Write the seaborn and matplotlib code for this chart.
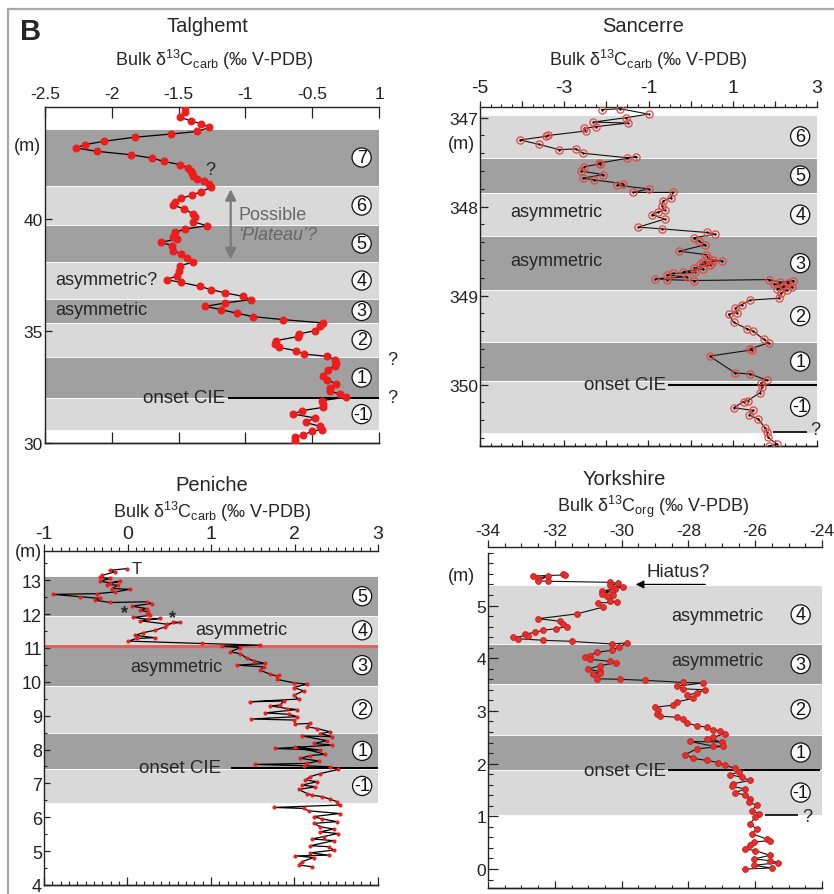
import matplotlib.pyplot as plt
import matplotlib.ticker as mtick
import matplotlib.transforms as mtrans
from matplotlib.lines import Line2D
import seaborn as sns

sns.set_theme(style='white')
plt.rcParams['font.family'] = ['Liberation Sans', 'DejaVu Sans']
plt.rcParams['mathtext.fontset'] = 'custom'
plt.rcParams['mathtext.rm'] = 'Liberation Sans'
plt.rcParams['mathtext.it'] = 'Liberation Sans:italic'
plt.rcParams['mathtext.bf'] = 'Liberation Sans:bold'
plt.rcParams['axes.unicode_minus'] = False
plt.rcParams['axes.edgecolor'] = '#222222'
plt.rcParams['axes.linewidth'] = 1.0
plt.rcParams['xtick.color'] = '#222222'
plt.rcParams['ytick.color'] = '#222222'

DARK = '#a0a0a0'
LIGHT = '#d9d9d9'
RED = '#ee1c1c'

# ---------------- Talghemt ----------------
tal_depth = [44.99, 44.76, 44.54, 44.39, 44.24, 44.09, 43.91, 43.79, 43.65, 43.47,
             43.32, 43.17, 43.02, 42.87, 42.72, 42.57, 42.43, 42.28, 42.16, 42.04,
             41.93, 41.79, 41.68, 41.56, 41.41, 41.22, 41.07, 40.92, 40.77, 40.62,
             40.45, 40.22, 40.07, 39.88, 39.70, 39.55, 39.40, 39.18, 39.11, 38.96,
             38.81, 38.59, 38.44, 38.24, 38.07, 37.92, 37.69, 37.47, 37.29, 37.17,
             36.99, 36.85, 36.70, 36.55, 36.40, 36.25, 36.10, 35.95, 35.79, 35.64,
             35.51, 35.36, 35.21, 35.01, 34.87, 34.75, 34.57, 34.42, 34.27, 34.12,
             33.97, 33.87, 33.72, 33.57, 33.45, 33.27, 33.01, 32.83, 32.63, 32.46,
             32.31, 32.19, 32.04, 31.89, 31.74, 31.59, 31.44, 31.29, 31.12, 30.92,
             30.74, 30.60, 30.52, 30.36, 30.25, 30.15, 30.00]
tal_d13c = [-1.45, -1.45, -1.49, -1.41, -1.33, -1.27, -1.36, -1.56, -1.83, -2.06,
            -2.20, -2.27, -2.11, -1.86, -1.70, -1.61, -1.49, -1.43, -1.41, -1.40,
            -1.39, -1.36, -1.31, -1.27, -1.26, -1.33, -1.40, -1.48, -1.53, -1.54,
            -1.46, -1.39, -1.38, -1.39, -1.29, -1.45, -1.53, -1.54, -1.51, -1.63,
            -1.55, -1.54, -1.48, -1.44, -1.39, -1.49, -1.50, -1.51, -1.59, -1.48,
            -1.34, -1.26, -1.15, -1.02, -0.96, -1.15, -1.30, -1.18, -1.06, -0.94,
            -0.72, -0.42, -0.44, -0.48, -0.60, -0.61, -0.77, -0.78, -0.75, -0.62,
            -0.56, -0.39, -0.33, -0.32, -0.33, -0.38, -0.42, -0.39, -0.32, -0.37,
            -0.37, -0.29, -0.25, -0.43, -0.42, -0.42, -0.58, -0.64, -0.48, -0.55,
            -0.44, -0.43, -0.50, -0.57, -0.63, -0.63, -0.63]
tal_band_edges = [44.02, 41.47, 39.73, 38.08, 36.43, 35.36, 33.84, 32.0, 30.58]
tal_band_labels = ['7', '6', '5', '4', '3', '2', '1', '-1']
tal_xticks = [-2.5, -2, -1.5, -1, -0.5, 0]
tal_xticklabels = ['-2.5', '-2', '-1.5', '-1', '-0.5', '1']

# ---------------- Sancerre ----------------
san_depth = [346.91, 346.90, 346.96, 347.00, 347.05, 347.06, 347.10, 347.12, 347.15, 347.20,
             347.21, 347.25, 347.30, 347.36, 347.35, 347.40, 347.45, 347.44, 347.51, 347.52,
             347.55, 347.60, 347.64, 347.68, 347.70, 347.74, 347.76, 347.80, 347.84, 347.84,
             347.90, 347.94, 347.99, 348.04, 348.06, 348.09, 348.14, 348.23, 348.25, 348.29,
             348.31, 348.35, 348.39, 348.43, 348.50, 348.54, 348.58, 348.60, 348.61, 348.62,
             348.63, 348.65, 348.66, 348.69, 348.70, 348.73, 348.74, 348.75, 348.77, 348.79,
             348.81, 348.82, 348.83, 348.82, 348.85, 348.83, 348.86, 348.87, 348.89, 348.90,
             348.92, 348.94, 348.97, 349.03, 349.05, 349.10, 349.14, 349.19, 349.21, 349.30,
             349.37, 349.40, 349.49, 349.53, 349.60, 349.61, 349.68, 349.87, 349.88, 349.95,
             349.98, 350.03, 350.09, 350.18, 350.19, 350.26, 350.29, 350.34, 350.39, 350.49,
             350.53, 350.59, 350.67, 350.69]
san_d13c = [-2.11, -1.67, -1.00, -1.53, -2.31, -1.48, -2.24, -2.52, -2.49, -3.38,
            -3.43, -4.05, -3.60, -3.12, -2.72, -2.55, -1.52, -1.29, -2.17, -2.15,
            -2.52, -2.60, -2.07, -2.56, -2.29, -1.61, -1.74, -1.00, -1.36, -0.42,
            -0.47, -0.66, -0.68, -0.62, -0.78, -0.92, -0.62, -1.24, -0.68, 0.38,
            0.58, 0.07, 0.21, 0.34, -0.27, 0.37, 0.42, 0.54, 0.74, 0.29,
            0.50, 0.23, 0.45, 0.07, 0.30, -0.17, 0.10, -0.41, -0.57, -0.09,
            -0.84, -0.57, 0.07, 1.85, 2.13, 2.44, 2.30, 1.97, 2.20, 2.40,
            2.05, 2.28, 2.15, 2.09, 1.41, 1.22, 1.06, 1.10, 0.90, 1.02,
            1.33, 1.49, 1.73, 1.85, 1.41, 1.45, 0.45, 1.06, 1.41, 1.81,
            1.67, 1.69, 1.65, 1.36, 1.26, 1.02, 1.49, 1.39, 1.61, 1.77,
            1.81, 1.83, 2.05, 1.85]
san_band_edges = [346.97, 347.45, 347.85, 348.33, 348.94, 349.52, 349.96, 350.54]
san_band_labels = ['6', '5', '4', '3', '2', '1', '-1']

# ---------------- Peniche ----------------
pen_depth = [13.34, 13.29, 13.24, 13.14, 13.08, 13.05, 12.97, 12.92, 12.97, 12.87,
             12.85, 12.75, 12.73, 12.65, 12.60, 12.58, 12.51, 12.46, 12.41, 12.34,
             12.36, 12.31, 12.23, 12.16, 12.11, 12.06, 11.99, 11.96, 11.90, 11.84,
             11.87, 11.80, 11.70, 11.75, 11.77, 11.62, 11.52, 11.45, 11.37, 11.30,
             11.28, 11.20, 11.13, 11.08, 11.05, 11.01, 10.88, 10.83, 10.69, 10.62,
             10.54, 10.49, 10.44, 10.34, 10.22, 10.17, 10.19, 10.07, 9.97, 9.93,
             9.83, 9.73, 9.60, 9.49, 9.41, 9.43, 9.31, 9.29, 9.21, 9.18,
             9.08, 9.04, 8.97, 8.90, 8.87, 8.75, 8.77, 8.67, 8.62, 8.52,
             8.47, 8.38, 8.40, 8.26, 8.18, 8.13, 8.03, 7.98, 8.08, 7.86,
             7.82, 7.74, 7.66, 7.59, 7.56, 7.52, 7.49, 7.41, 7.29, 7.20,
             7.10, 7.05, 6.95, 6.90, 6.82, 6.70, 6.65, 6.61, 6.53, 6.46,
             6.36, 6.29, 6.26, 6.19, 6.11, 6.02, 5.95, 5.87, 5.82, 5.72,
             5.65, 5.57, 5.52, 5.43, 5.36, 5.31, 5.16, 5.13, 5.03, 4.95,
             4.88, 4.86, 4.81, 4.69, 4.59, 4.54]
pen_d13c = [-0.01, -0.21, -0.15, -0.31, -0.33, -0.21, -0.33, -0.21, -0.09, -0.25,
            -0.11, -0.19, 0.03, -0.15, -0.37, -0.89, -0.57, -0.33, -0.39, -0.21,
            0.23, 0.29, 0.05, 0.23, 0.15, 0.25, 0.23, 0.27, 0.07, 0.25,
            0.39, 0.15, 0.47, 0.63, 0.55, 0.45, 0.33, 0.19, 0.09, 0.33,
            0.11, 0.01, 0.89, 1.59, 1.13, 1.35, 1.23, 1.35, 1.43, 1.51,
            1.65, 1.31, 1.63, 1.59, 1.71, 1.79, 1.81, 1.79, 1.99, 2.15,
            1.99, 2.11, 1.99, 2.05, 1.47, 1.87, 1.83, 1.71, 1.91, 2.03,
            1.65, 1.93, 2.03, 1.48, 1.99, 2.01, 2.19, 2.15, 2.27, 2.43,
            2.31, 2.45, 2.09, 2.39, 2.23, 2.45, 1.77, 2.31, 2.01, 2.37,
            2.19, 2.07, 2.29, 2.15, 1.53, 2.11, 2.43, 2.52, 2.31, 2.19,
            2.13, 2.27, 2.09, 2.25, 2.05, 2.15, 2.21, 2.33, 2.43, 2.51,
            2.54, 1.75, 2.11, 2.17, 2.54, 2.23, 2.33, 2.51, 2.23, 2.31,
            2.47, 2.31, 2.52, 2.35, 2.21, 2.47, 2.19, 2.41, 2.47, 2.19,
            2.41, 2.01, 2.23, 2.09, 2.05, 2.21]
pen_band_edges = [13.11, 11.94, 11.10, 9.88, 8.50, 7.42, 6.43]
pen_band_labels = ['5', '4', '3', '2', '1', '-1']

# ---------------- Yorkshire ----------------
yor_depth = [5.60, 5.58, 5.56, 5.52, 5.56, 5.47, 5.46, 5.44, 5.42, 5.38,
             5.35, 5.32, 5.27, 5.27, 5.22, 5.18, 5.19, 5.09, 5.06, 5.05,
             4.97, 4.84, 4.75, 4.70, 4.65, 4.60, 4.56, 4.53, 4.49, 4.46,
             4.43, 4.40, 4.37, 4.34, 4.32, 4.27, 4.29, 4.21, 4.15, 4.11,
             4.05, 4.02, 3.98, 3.94, 3.91, 3.86, 3.79, 3.75, 3.70, 3.72,
             3.61, 3.60, 3.58, 3.54, 3.53, 3.47, 3.42, 3.40, 3.34, 3.30,
             3.24, 3.17, 3.11, 3.07, 3.01, 2.94, 2.90, 2.88, 2.84, 2.77,
             2.72, 2.69, 2.64, 2.62, 2.57, 2.50, 2.47, 2.41, 2.42, 2.33,
             2.33, 2.28, 2.17, 2.10, 2.06, 2.02, 1.97, 1.91, 1.84, 1.79,
             1.74, 1.68, 1.62, 1.57, 1.52, 1.45, 1.40, 1.33, 1.27, 1.21,
             1.11, 1.05, 0.98, 0.86, 0.76, 0.67, 0.57, 0.54, 0.51, 0.45,
             0.38, 0.35, 0.26, 0.19, 0.16, 0.12, 0.07, 0.02, 0.00]
yor_d13c = [-31.74, -31.70, -32.64, -32.49, -32.19, -32.49, -32.19, -30.35, -30.10, -30.35,
            -29.95, -30.20, -30.60, -30.30, -30.60, -30.45, -30.25, -30.35, -30.15, -30.70,
            -30.55, -31.35, -32.49, -31.84, -31.74, -31.64, -31.96, -32.36, -32.59, -32.89,
            -32.79, -33.24, -33.09, -32.34, -31.50, -30.30, -29.85, -30.07, -30.30, -30.75,
            -30.95, -31.10, -30.95, -30.35, -30.18, -30.65, -31.00, -30.65, -30.85, -30.65,
            -30.75, -30.05, -29.30, -28.15, -27.55, -28.35, -28.15, -27.50, -27.75, -28.05,
            -27.85, -28.35, -28.45, -29.00, -28.90, -28.95, -28.85, -28.35, -28.15, -28.05,
            -27.75, -27.45, -27.25, -27.05, -26.90, -27.25, -27.45, -27.00, -27.95, -27.25,
            -26.95, -27.75, -28.10, -27.85, -27.45, -27.10, -26.90, -26.60, -26.50, -26.75,
            -26.40, -26.16, -26.65, -26.70, -26.30, -26.60, -26.30, -26.16, -26.20, -25.96,
            -26.10, -25.90, -26.00, -26.16, -25.96, -26.10, -25.66, -25.56, -26.05, -26.16,
            -26.30, -26.00, -25.56, -26.05, -25.56, -25.31, -26.05, -25.51, -26.30]
yor_band_edges = [5.39, 4.27, 3.51, 2.55, 1.87, 1.03]
yor_band_labels = ['4', '3', '2', '1', '-1']


def draw_bands(ax, edges, labels, xnum):
    for i, lab in enumerate(labels):
        lo, hi = sorted([edges[i], edges[i + 1]])
        shade = DARK if lab in ('1', '3', '5', '7') else LIGHT
        ax.axhspan(lo, hi, color=shade, ec='white', lw=0.6, zorder=0)
        ax.text(xnum, (lo + hi) / 2, lab, ha='center', va='center', fontsize=13,
                color='#111111', zorder=6,
                bbox=dict(boxstyle='circle,pad=0.06', fc='white', ec='#111111', lw=0.9))


def set_xticks(ax, major, labels, minor, top_dir, top_len, bot_len, size, pad):
    ax.set_xticks(major, labels=labels)
    if minor:
        ax.xaxis.set_minor_locator(mtick.MultipleLocator(minor))
    ax.tick_params(axis='x', which='both', top=True, bottom=False, labeltop=True,
                   labelbottom=False, direction=top_dir, labelsize=size, pad=pad)
    ax.tick_params(axis='x', which='major', length=top_len, width=0.9)
    ax.tick_params(axis='x', which='minor', length=top_len * 0.55, width=0.8)
    sec = ax.secondary_xaxis('bottom')
    sec.set_xticks(major)
    if minor:
        sec.xaxis.set_minor_locator(mtick.MultipleLocator(minor))
    sec.tick_params(axis='x', which='both', direction='in', labelbottom=False)
    sec.tick_params(axis='x', which='major', length=bot_len, width=0.9)
    sec.tick_params(axis='x', which='minor', length=bot_len * 0.5, width=0.8)


def set_yticks(ax, major, minor, length, size):
    ax.set_yticks(major, labels=[str(v) for v in major])
    if minor:
        ax.yaxis.set_minor_locator(mtick.MultipleLocator(minor))
    ax.tick_params(axis='y', which='both', left=True, right=False, direction='in',
                   labelsize=size, pad=1.5)
    ax.tick_params(axis='y', which='major', length=length, width=0.9)
    ax.tick_params(axis='y', which='minor', length=length * 0.5, width=0.8)


def m_label(ax, y, xoff):
    tr = mtrans.blended_transform_factory(ax.transAxes, ax.transData)
    ax.text(xoff, y, '(m)', transform=tr, ha='right', va='center', fontsize=13)


fig = plt.figure(figsize=(8.34, 8.95), dpi=100)
W, H = 834, 895


def px_axes(x0, y0, x1, y1):
    return fig.add_axes([x0 / W, 1 - y1 / H, (x1 - x0) / W, (y1 - y0) / H])


def px_text(x, y, s, **kw):
    fig.text(x / W, 1 - y / H, s, ha='center', va='center', **kw)


label_carb = 'Bulk δ$^{13}$C$_{\\rm carb}$ (‰ V-PDB)'
label_org = 'Bulk δ$^{13}$C$_{\\rm org}$ (‰ V-PDB)'

# ---- Talghemt
ax1 = px_axes(45, 108, 379, 444)
draw_bands(ax1, tal_band_edges, tal_band_labels, -0.13)
sns.lineplot(x=tal_d13c, y=tal_depth, sort=False, estimator=None, ax=ax1, color='black',
             lw=0.9, marker='o', markersize=5, markerfacecolor=RED, markeredgecolor=RED,
             zorder=4)
ax1.set_xlim(-2.5, 0)
ax1.set_ylim(30, 45)
set_xticks(ax1, tal_xticks, tal_xticklabels, None, 'in', 8, 8, 12.5, 4)
set_yticks(ax1, [30, 35, 40], None, 5, 12.5)
ax1.spines['right'].set_visible(False)
m_label(ax1, 43.3, -0.012)
ax1.hlines(32.02, -1.13, 0, color='black', lw=1.4, zorder=3)
ax1.text(-1.15, 32.02, 'onset CIE', ha='right', va='center', fontsize=13.5)
ax1.text(0.1, 32.04, '?', ha='center', va='center', fontsize=13)
ax1.text(0.1, 33.72, '?', ha='center', va='center', fontsize=13)
ax1.text(-1.26, 42.2, '?', ha='center', va='center', fontsize=13)
ax1.text(-2.425, 37.32, 'asymmetric?', ha='left', va='center', fontsize=13)
ax1.text(-2.425, 35.95, 'asymmetric', ha='left', va='center', fontsize=13)
ax1.annotate('', xy=(-1.11, 41.45), xytext=(-1.11, 38.08),
             arrowprops=dict(arrowstyle='<|-|>', color='#7a7a7a', lw=1.6, mutation_scale=16))
ax1.text(-1.05, 40.22, 'Possible', ha='left', va='center', fontsize=13, color='#666666')
ax1.text(-1.05, 39.29, '‘Plateau’?', ha='left', va='center', fontsize=13, color='#666666',
         style='italic')

# ---- Sancerre
ax2 = px_axes(480, 108, 817, 447)
draw_bands(ax2, san_band_edges, san_band_labels, 2.6)
sns.lineplot(x=san_d13c, y=san_depth, sort=False, estimator=None, ax=ax2, color='#111111',
             lw=0.8, marker='o', markersize=0.9, markerfacecolor='black',
             markeredgecolor='black', zorder=3)
sns.lineplot(x=san_d13c, y=san_depth, sort=False, estimator=None, ax=ax2, lw=0,
             linestyle='none', marker='o', markersize=5.2, markerfacecolor='none',
             markeredgecolor='#e8463e', markeredgewidth=0.9, zorder=4)
ax2.set_xlim(-5, 3)
ax2.set_ylim(350.69, 346.88)
set_xticks(ax2, [-5, -4, -3, -2, -1, 0, 1, 2, 3], ['-5', '', '-3', '', '-1', '', '1', '', '3'],
           0.25, 'out', 4, 4, 14, 4)
set_yticks(ax2, [347, 348, 349, 350], 0.2, 6, 12.5)
ax2.spines['right'].set_visible(False)
m_label(ax2, 347.29, -0.015)
ax2.hlines(350.0, -0.53, 3.0, color='black', lw=1.4, zorder=3)
ax2.text(-0.58, 350.0, 'onset CIE', ha='right', va='center', fontsize=13.5)
ax2.text(-4.29, 348.06, 'asymmetric', ha='left', va='center', fontsize=13)
ax2.text(-4.29, 348.61, 'asymmetric', ha='left', va='center', fontsize=13)
ax2.hlines(350.53, 1.96, 2.76, color='black', lw=1.2)
ax2.text(2.96, 350.5, '?', ha='center', va='center', fontsize=13)

# ---- Peniche
ax3 = px_axes(44, 552, 378, 886)
draw_bands(ax3, pen_band_edges, pen_band_labels, 2.81)
ax3.axhline(11.05, color='#e85a5a', lw=2.4, alpha=0.9, zorder=2)
sns.lineplot(x=pen_d13c, y=pen_depth, sort=False, estimator=None, ax=ax3, color='black',
             lw=0.9, marker='o', markersize=2.2, markerfacecolor=RED, markeredgecolor=RED,
             zorder=4)
ax3.set_xlim(-1, 3)
ax3.set_ylim(4, 13.86)
set_xticks(ax3, [-1, 0, 1, 2, 3], ['-1', '0', '1', '2', '3'], 0.1, 'out', 5, 6, 14, 1.5)
set_yticks(ax3, list(range(4, 14)), 0.5, 4, 13)
ax3.spines['right'].set_visible(False)
m_label(ax3, 13.84, -0.006)
ax3.hlines(7.44, 1.24, 3.0, color='black', lw=1.4, zorder=3)
ax3.text(1.12, 7.46, 'onset CIE', ha='right', va='center', fontsize=13.5)
ax3.text(1.36, 11.54, 'asymmetric', ha='center', va='center', fontsize=13)
ax3.text(0.59, 10.46, 'asymmetric', ha='center', va='center', fontsize=13)
ax3.text(0.11, 13.34, 'T', ha='center', va='center', fontsize=12)
ax3.text(-0.04, 12.05, '*', ha='center', va='center', fontsize=13, weight='bold')
ax3.text(0.54, 11.88, '*', ha='center', va='center', fontsize=13, weight='bold')

# ---- Yorkshire
ax4 = px_axes(488, 548, 822, 889)
draw_bands(ax4, yor_band_edges, yor_band_labels, -24.64)
sns.lineplot(x=yor_d13c, y=yor_depth, sort=False, estimator=None, ax=ax4, color='#111111',
             lw=0.8, marker='o', markersize=4.2, markerfacecolor='#e8302a',
             markeredgecolor='#c41f1f', markeredgewidth=0.6, zorder=4)
ax4.set_xlim(-34, -24)
ax4.set_ylim(-0.36, 6.11)
set_xticks(ax4, [-34, -32, -30, -28, -26, -24], ['-34', '-32', '-30', '-28', '-26', '-24'],
           0.5, 'out', 5, 5, 12.5, 1.5)
set_yticks(ax4, [0, 1, 2, 3, 4, 5], 0.2, 7, 12.5)
ax4.spines['right'].set_visible(False)
ax4.spines['left'].set_bounds(-0.2, 6.0)
m_label(ax4, 5.57, -0.039)
ax4.hlines(1.87, -28.61, -24.06, color='black', lw=1.4, zorder=3)
ax4.text(-28.66, 1.87, 'onset CIE', ha='right', va='center', fontsize=13.5)
ax4.text(-28.52, 4.81, 'asymmetric', ha='left', va='center', fontsize=13)
ax4.text(-28.52, 3.96, 'asymmetric', ha='left', va='center', fontsize=13)
ax4.hlines(1.03, -25.71, -24.72, color='black', lw=1.2)
ax4.text(-24.45, 1.0, '?', ha='center', va='center', fontsize=13)
ax4.annotate('', xy=(-29.66, 5.40), xytext=(-27.41, 5.40),
             arrowprops=dict(arrowstyle='-|>', color='black', lw=0.9, mutation_scale=12))
ax4.text(-29.24, 5.64, 'Hiatus?', ha='left', va='center', fontsize=13.5)

for ax in (ax1, ax2, ax3, ax4):
    ax.set_xlabel('')
    ax.set_ylabel('')
    ax.set_facecolor('white')

# titles and axis labels
px_text(207, 27, 'Talghemt', fontsize=14.5)
px_text(214, 60, label_carb, fontsize=13)
px_text(643, 27, 'Sancerre', fontsize=14.5)
px_text(648, 60, label_carb, fontsize=13)
px_text(212, 486, 'Peniche', fontsize=14.5)
px_text(212, 512, label_carb, fontsize=13)
px_text(624, 480, 'Yorkshire', fontsize=14.5)
px_text(653, 507, label_org, fontsize=13)
fig.text(20 / W, 1 - 40 / H, 'B', fontsize=21, weight='bold', ha='left', va='baseline')

# outer frame
fig.add_artist(Line2D([8 / W, 8 / W], [0, 1 - 10 / H], transform=fig.transFigure,
                      color='#a8a8a8', lw=1.6))
fig.add_artist(Line2D([8 / W, 1], [1 - 10 / H, 1 - 10 / H], transform=fig.transFigure,
                      color='#a8a8a8', lw=1.6))

fig.savefig('out.png', dpi=100)
